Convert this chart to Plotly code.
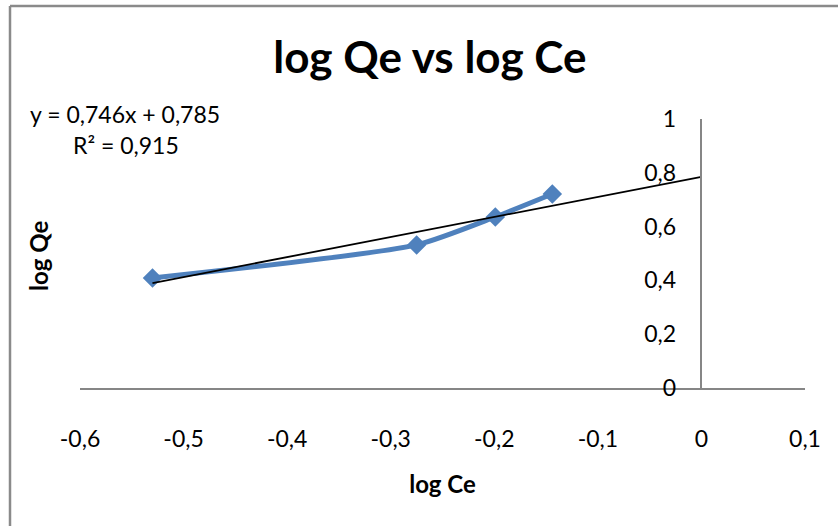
import plotly.graph_objects as go

# Data
log_ce = [-0.530, -0.275, -0.199, -0.144]
log_qe = [0.409, 0.532, 0.636, 0.721]
slope = 0.746
intercept = 0.785
r2_text = "R² = 0,915"
eq_text = "y = 0,746x + 0,785"

x_tickvals = [-0.6, -0.5, -0.4, -0.3, -0.2, -0.1, 0, 0.1]
x_ticktext = ["-0,6", "-0,5", "-0,4", "-0,3", "-0,2", "-0,1", "0", "0,1"]
y_tickvals = [0, 0.2, 0.4, 0.6, 0.8, 1]
y_ticktext = ["0", "0,2", "0,4", "0,6", "0,8", "1"]

FONT = "Lato, 'Open Sans', sans-serif"

W, H = 838, 526
ML, MR, MT, MB = 80, 33, 119, 138
PW, PH = W - ML - MR, H - MT - MB


def px_to_paper_x(px):
    return (px - ML) / PW


def px_to_paper_y(py):
    return (H - MB - py) / PH


trend_x = [min(log_ce), 0.0]
trend_y = [slope * v + intercept for v in trend_x]

fig = go.Figure()
fig.add_trace(go.Scatter(
    x=log_ce, y=log_qe, mode="lines+markers",
    line=dict(color="#4F81BD", width=5, shape="spline", smoothing=0.6),
    marker=dict(symbol="diamond", size=15, color="#4F81BD"),
    showlegend=False, cliponaxis=False,
))
fig.add_trace(go.Scatter(
    x=trend_x, y=trend_y, mode="lines",
    line=dict(color="black", width=1.8),
    showlegend=False, cliponaxis=False,
))

fig.update_layout(
    width=W, height=H,
    margin=dict(l=ML, r=MR, t=MT, b=MB),
    paper_bgcolor="white", plot_bgcolor="white",
    font=dict(family=FONT, size=23, color="black"),
    title=dict(text="<b>log Qe vs log Ce</b>", x=0.513, xanchor="center",
               y=1 - 58 / H, yanchor="middle",
               font=dict(family=FONT, size=44, color="black")),
    xaxis=dict(range=[-0.6, 0.1], tickvals=x_tickvals, ticktext=x_ticktext,
               showgrid=False, zeroline=False, showline=True,
               linecolor="#868686", linewidth=1.5, ticks="",
               ticklabelstandoff=30,
               tickfont=dict(family=FONT, size=23),
               title=dict(text="<b>log Ce</b>", standoff=25,
                          font=dict(family=FONT, size=24)),
               anchor="y"),
    yaxis=dict(range=[0, 1], tickvals=y_tickvals, ticktext=y_ticktext,
               showgrid=False, zeroline=False, showline=True,
               linecolor="#868686", linewidth=1.5, ticks="",
               anchor="free", position=6 / 7, side="left",
               ticklabelstandoff=20,
               tickfont=dict(family=FONT, size=23)),
    shapes=[
        dict(type="line", xref="paper", yref="paper",
             x0=px_to_paper_x(10), x1=px_to_paper_x(840),
             y0=px_to_paper_y(6), y1=px_to_paper_y(6),
             line=dict(color="#8a8a8a", width=2.5)),
        dict(type="line", xref="paper", yref="paper",
             x0=px_to_paper_x(10), x1=px_to_paper_x(10),
             y0=px_to_paper_y(6), y1=px_to_paper_y(530),
             line=dict(color="#8a8a8a", width=2.5)),
    ],
    annotations=[
        dict(text=eq_text, xref="paper", yref="paper",
             x=px_to_paper_x(125), y=px_to_paper_y(114),
             xanchor="center", yanchor="middle", showarrow=False,
             font=dict(family=FONT, size=23)),
        dict(text=r2_text, xref="paper", yref="paper",
             x=px_to_paper_x(126), y=px_to_paper_y(145),
             xanchor="center", yanchor="middle", showarrow=False,
             font=dict(family=FONT, size=23)),
        dict(text="<b>log Qe</b>", xref="paper", yref="paper",
             x=px_to_paper_x(38), y=px_to_paper_y(256),
             xanchor="center", yanchor="middle", showarrow=False,
             textangle=-90, font=dict(family=FONT, size=24)),
    ],
)

fig.write_html("out.html")
